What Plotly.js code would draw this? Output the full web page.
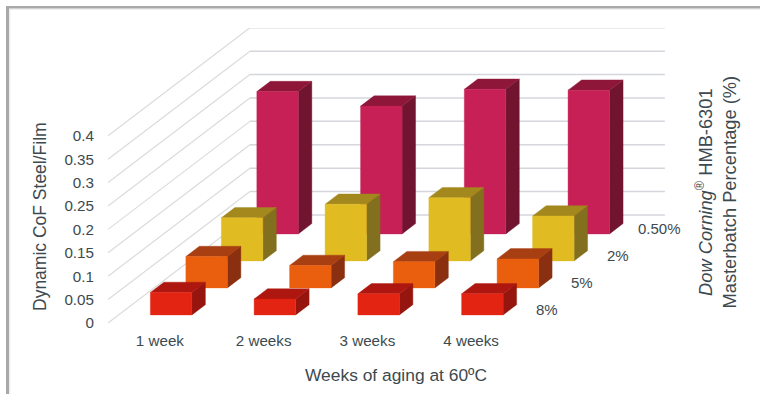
<!DOCTYPE html>
<html>
<head>
<meta charset="utf-8">
<script src="https://cdn.plot.ly/plotly-3.0.1.min.js"></script>
<style>html,body{margin:0;padding:0;background:#fff;overflow:hidden}</style>
</head>
<body>
<div id="chart" style="width:760px;height:394px"></div>
<script>
// Dynamic CoF by aging time and masterbatch loading
const weeks = ['1 week', '2 weeks', '3 weeks', '4 weeks'];
const loadings = ['8%', '5%', '2%', '0.50%'];
const cof8 = [0.048, 0.034, 0.045, 0.045];
const cof5 = [0.067, 0.048, 0.056, 0.062];
const cof2 = [0.092, 0.121, 0.135, 0.096];
const cof05 = [0.304, 0.273, 0.309, 0.307];
const yTicks = [0, 0.05, 0.1, 0.15, 0.2, 0.25, 0.3, 0.35, 0.4];
const yTickText = ['0', '0.05', '0.1', '0.15', '0.2', '0.25', '0.3', '0.35', '0.4'];

const rows = [cof8, cof5, cof2, cof05];
const frontColors = ['#E32412', '#EA5F0E', '#E0BC22', '#C62056'];
const topColors = ['#AE1710', '#A83F12', '#A3881E', '#8E1638'];
const sideColors = ['#96160F', '#8A3010', '#82701E', '#70142F'];

// Oblique projection: each step in depth shifts a point along x and along value
const SHEAR_X = 0.342, SHEAR_Y = 0.0577;
const BAR_INSET = 0.306, BAR_WIDTH = 0.4, DEPTH_INSET = 0.3, DEPTH_SIZE = 0.38;
const project = (cat, depth, val) => [cat + depth * SHEAR_X, val + depth * SHEAR_Y];

function polygonTrace(polys, color) {
  const x = [], y = [];
  polys.forEach(poly => {
    poly.forEach(p => { x.push(p[0]); y.push(p[1]); });
    x.push(poly[0][0], null);
    y.push(poly[0][1], null);
  });
  return { type: 'scatter', mode: 'lines', x, y, fill: 'toself', fillcolor: color,
           line: { width: 0.4, color: color }, hoverinfo: 'skip', showlegend: false, cliponaxis: false };
}

const traces = [];

// Side wall and back wall gridlines
yTicks.forEach(v => {
  const a = project(0, 0, v), b = project(0, 4, v), c = project(4, 4, v);
  traces.push({ type: 'scatter', mode: 'lines', x: [a[0], b[0]], y: [a[1], b[1]],
    line: { color: '#DADBDC', width: 1.2 }, hoverinfo: 'skip', showlegend: false, cliponaxis: false });
  traces.push({ type: 'scatter', mode: 'lines', x: [b[0], c[0]], y: [b[1], c[1]],
    line: { color: '#D4D6DC', width: 1.5 }, hoverinfo: 'skip', showlegend: false, cliponaxis: false });
});

// Rows are painted from the back to the front so nearer bars cover farther ones
for (let i = rows.length - 1; i >= 0; i--) {
  const d0 = i + DEPTH_INSET, d1 = d0 + DEPTH_SIZE;
  const side = [], top = [], front = [];
  rows[i].forEach((val, c) => {
    const x0 = c + BAR_INSET, x1 = x0 + BAR_WIDTH;
    front.push([project(x0, d0, 0), project(x1, d0, 0), project(x1, d0, val), project(x0, d0, val)]);
    top.push([project(x0, d0, val), project(x1, d0, val), project(x1, d1, val), project(x0, d1, val)]);
    side.push([project(x1, d0, 0), project(x1, d1, 0), project(x1, d1, val), project(x1, d0, val)]);
  });
  traces.push(polygonTrace(side, sideColors[i]), polygonTrace(top, topColors[i]), polygonTrace(front, frontColors[i]));
}

const INK = '#3C4A50';
const FONT = 'Liberation Sans, Arial, sans-serif';

// Depth-axis labels sit just past the right end of each row
const depthLabels = loadings.map((t, i) => {
  const p = project(4, i + 0.5, 0);
  return { text: t, x: p[0], y: p[1], xref: 'x', yref: 'y', showarrow: false,
           xanchor: 'center', yanchor: 'middle', xshift: i === 3 ? 12 : 6,
           font: { family: FONT, size: 15, color: INK } };
});

const frameLine = (x0, y0, x1, y1, color, width) => ({
  type: 'line', xref: 'paper', yref: 'paper', layer: 'below',
  x0: (x0 - 108) / 576, x1: (x1 - 108) / 576,
  y0: (323 - y0) / 295, y1: (323 - y1) / 295,
  line: { color, width }
});

const layout = {
  width: 760, height: 394,
  margin: { l: 108, r: 76, t: 28, b: 71 },
  paper_bgcolor: '#fff', plot_bgcolor: 'rgba(0,0,0,0)',
  showlegend: false, hovermode: false,
  font: { family: FONT, size: 15, color: INK },
  xaxis: {
    range: [0, 5.552], tickmode: 'array', tickvals: [0.5, 1.5, 2.5, 3.5], ticktext: weeks,
    showgrid: false, zeroline: false, showline: false, fixedrange: true,
    ticks: 'outside', ticklen: 4, tickcolor: 'rgba(0,0,0,0)',
    tickfont: { family: FONT, size: 15.2, color: INK },
    title: { text: 'Weeks of aging at 60ºC', standoff: 20, font: { family: FONT, size: 17.4, color: INK } }
  },
  yaxis: {
    range: [0, 0.6303], tickmode: 'array', tickvals: yTicks, ticktext: yTickText,
    showgrid: false, zeroline: false, showline: false, fixedrange: true,
    ticks: 'outside', ticklen: 10, tickcolor: 'rgba(0,0,0,0)',
    tickfont: { family: FONT, size: 15.2, color: INK }
  },
  annotations: depthLabels.concat([
    { text: 'Dynamic CoF Steel/Film', xref: 'paper', yref: 'paper',
      x: (40 - 108) / 576, y: (323 - 217) / 295, textangle: -90, showarrow: false,
      xanchor: 'center', yanchor: 'middle', font: { family: FONT, size: 17.5, color: INK } },
    { text: '<i>Dow Corning</i><sup>®</sup> HMB-6301<br>Masterbatch Percentage (%)', xref: 'paper', yref: 'paper',
      x: (715.5 - 108) / 576, y: (323 - 192) / 295, textangle: -90, showarrow: false, align: 'center',
      xanchor: 'center', yanchor: 'middle', font: { family: FONT, size: 18.3, color: INK } }
  ]),
  shapes: [
    frameLine(9.5, 9.2, 760, 9.2, '#E8E8EC', 1),
    frameLine(9.8, 9, 9.8, 394, '#E8E8EC', 1),
    frameLine(6, 7.2, 760, 7.2, '#A9A9A9', 2.4),
    frameLine(7.5, 6, 7.5, 394, '#A9A9A9', 3)
  ]
};

Plotly.newPlot('chart', traces, layout, { displayModeBar: false, staticPlot: true });
</script>
</body>
</html>
